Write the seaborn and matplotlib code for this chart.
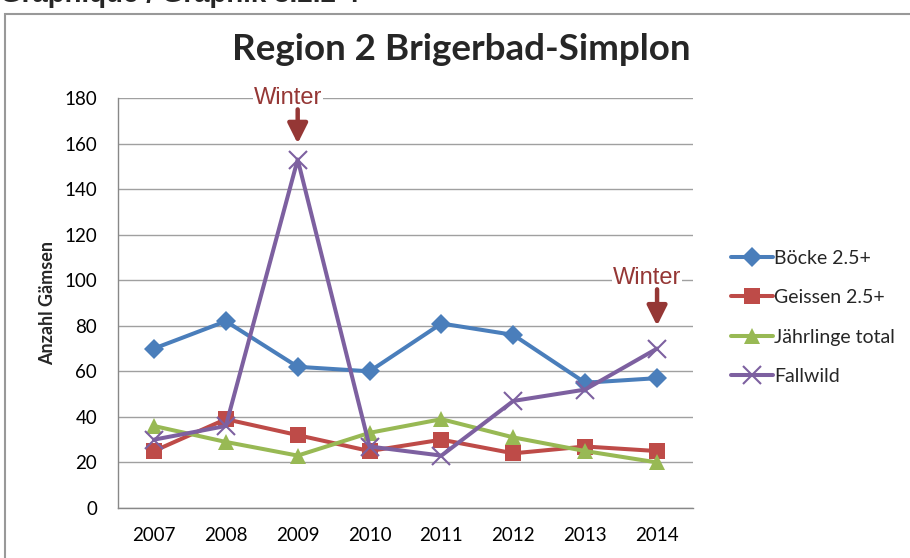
import pandas as pd
import matplotlib.pyplot as plt
import matplotlib.patches as patches
import seaborn as sns

# Daten
jahre = ['2007', '2008', '2009', '2010', '2011', '2012', '2013', '2014']
boecke = [70, 82, 62, 60, 81, 76, 55, 57]
geissen = [25, 39, 32, 25, 30, 24, 27, 25]
jaehrlinge = [36, 29, 23, 33, 39, 31, 25, 20]
fallwild = [30, 36, 153, 27, 23, 47, 52, 70]
serien = ['Böcke 2.5+', 'Geissen 2.5+', 'Jährlinge total', 'Fallwild']
farben = ['#4A7EBB', '#BE4B48', '#98B954', '#7D60A0']
marker = ['D', 's', '^', 'x']
y_ticks = [0, 20, 40, 60, 80, 100, 120, 140, 160, 180]

def plot_region():
    sns.set_style('white')
    plt.rcParams['font.family'] = ['Lato', 'DejaVu Sans']

    fig = plt.figure(figsize=(9.1, 5.58), dpi=100)
    ax = fig.add_axes([118 / 910, 1 - 508 / 558, 575 / 910, 410 / 558])

    for name, werte, farbe, m in zip(serien, [boecke, geissen, jaehrlinge, fallwild], farben, marker):
        df = pd.DataFrame({'Jahr': jahre, 'Anzahl': werte})
        if m == 'x':
            sns.lineplot(data=df, x='Jahr', y='Anzahl', color=farbe, marker='x', markersize=13,
                         markeredgewidth=1.5, markeredgecolor=farbe, linewidth=2.9,
                         label=name, ax=ax)
        else:
            groesse = 10.5 if m == 'D' else 11.5
            sns.lineplot(data=df, x='Jahr', y='Anzahl', color=farbe, marker=m, markersize=groesse,
                         markeredgewidth=0, linewidth=2.9, label=name, ax=ax)

    ax.set_xlim(-0.5, 7.5)
    ax.set_ylim(0, 180)
    ax.set_yticks(y_ticks)
    ax.yaxis.grid(True, color='#A0A0A0', linewidth=1)
    ax.set_axisbelow(True)
    for s in ['top', 'right']:
        ax.spines[s].set_visible(False)
    for s in ['left', 'bottom']:
        ax.spines[s].set_color('#888888')
        ax.spines[s].set_linewidth(1)
    ax.tick_params(axis='both', length=0, labelsize=13.5, colors='black')
    ax.tick_params(axis='x', pad=14)
    ax.tick_params(axis='y', pad=15)
    ax.set_xlabel('')
    ax.set_ylabel('Anzahl Gämsen', fontsize=13, fontweight='bold', labelpad=6)

    fig.text(461 / 910, 1 - 49 / 558, 'Region 2 Brigerbad-Simplon', fontsize=26.5,
             fontweight='bold', ha='center', va='center')

    # Winter-Pfeile
    pfeil = '#953735'
    for x_pos, txt_x, txt_y, tip, tail in [(2, 1.86, 180, 160, 175), (7, 6.86, 101, 80, 96)]:
        ax.text(txt_x, txt_y, 'Winter', ha='center', va='center', fontsize=17,
                color=pfeil, family=['Liberation Sans', 'DejaVu Sans'],
                bbox=dict(facecolor='white', edgecolor='none', pad=0.5), clip_on=False)
        ax.annotate('', xy=(x_pos, tip), xytext=(x_pos, tail),
                    arrowprops=dict(arrowstyle='-|>', color=pfeil, lw=3.2,
                                    mutation_scale=30, shrinkA=0, shrinkB=0))

    handles, labels = ax.get_legend_handles_labels()
    ax.legend(handles, labels, loc='center left', bbox_to_anchor=(1.035, 0.465),
              frameon=False, fontsize=14, handlelength=2.2, handletextpad=0.05,
              labelspacing=1.15)

    # Rahmen und abgeschnittene Überschrift
    fig.patches.append(patches.Rectangle((5 / 910, -0.05), 1.0, 1 - 14 / 558 + 0.05,
                                         transform=fig.transFigure, fill=False,
                                         edgecolor='#999999', linewidth=1.5))
    fig.text(0.0, 1 - 1.5 / 558, 'Graphique / Graphik 8.2.2 4', fontsize=20,
             fontweight='bold', va='baseline', family=['Liberation Sans', 'DejaVu Sans'])

    fig.savefig('out.png', dpi=100)
    plt.close(fig)

if __name__ == '__main__':
    plot_region()
